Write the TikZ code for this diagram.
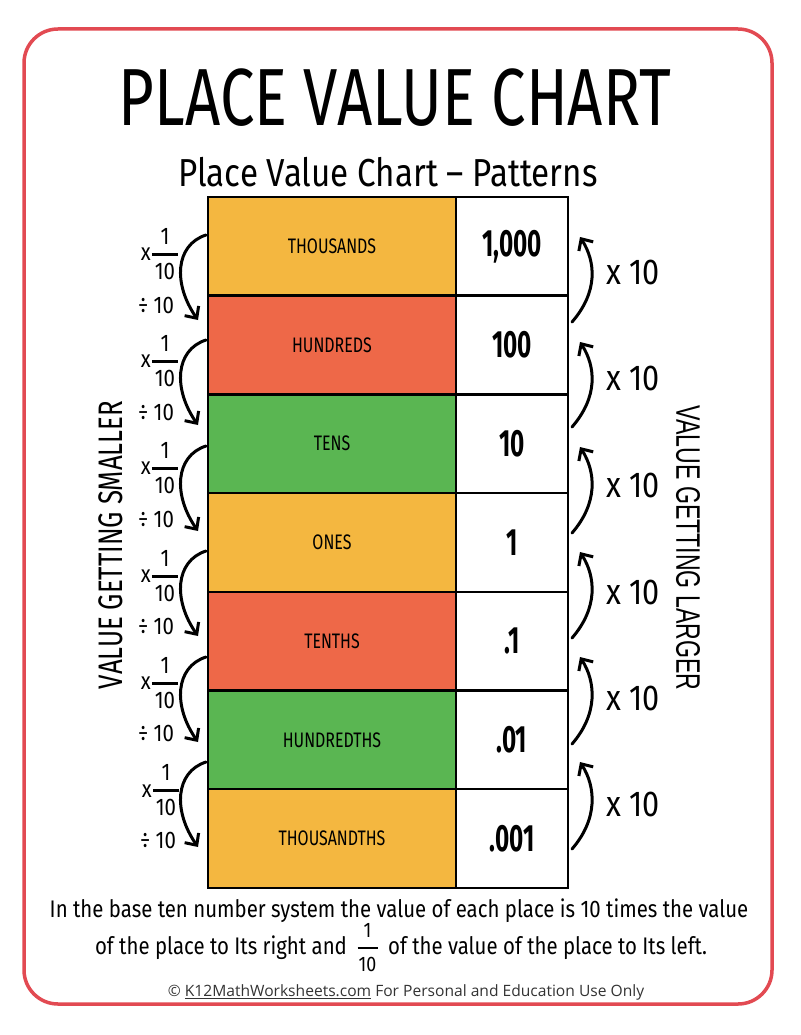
\documentclass[tikz,border=0pt]{standalone}
\usepackage{amsmath}
\usepackage{fontspec}
\usepackage{tikz}
\usetikzlibrary{arrows.meta}
\setmainfont{Open Sans}
\newfontfamily\capsfont[FakeStretch=0.76]{Fira Sans}
\newfontfamily\handfont[FakeStretch=0.85]{Fira Sans}
\newfontfamily\numfont[FakeStretch=0.64]{Fira Sans}
\newfontfamily\armfont[FakeStretch=0.68]{Liberation Sans}
\definecolor{frame}{RGB}{226,74,82}
\definecolor{orng}{RGB}{244,183,64}
\definecolor{redd}{RGB}{238,104,72}
\definecolor{grn}{RGB}{90,182,82}
\newcommand{\onetenth}{\genfrac{}{}{2.5pt}{0}{\hbox{1}}{\hbox to 26pt{\hss 10\hss}}}
\newcommand{\smalltenth}{$\genfrac{}{}{2pt}{0}{\hbox{\fontsize{21}{21}\selectfont 1}}{\hbox to 20pt{\hss\fontsize{21}{21}\selectfont 10\hss}}$}

\begin{document}
\begin{tikzpicture}[x=1pt, y=-1pt, node distance=98.7pt,
	place/.style={draw, line width=2.5pt, minimum width=248pt, minimum height=98.7pt, inner sep=0pt, font=\capsfont\fontsize{21}{21}\selectfont},
	amount/.style={draw, line width=2.5pt, fill=white, minimum width=112pt, minimum height=98.7pt, inner sep=0pt, font=\numfont\bfseries\fontsize{38}{38}\selectfont},
	loopy/.style={-{Straight Barb[length=9pt,width=17pt]}, line width=3pt, line cap=round, line join=round},
	tenthlbl/.style={inner sep=0pt, font=\handfont\fontsize{24}{24}\selectfont},
	timesten/.style={inner sep=0pt, font=\handfont\fontsize{36}{36}\selectfont},
	para/.style={inner sep=0pt, anchor=base, font=\handfont\fontsize{24}{24}\selectfont}]
	\useasboundingbox (0,0) rectangle (800,1035);
	\draw[frame, line width=3.5pt, rounded corners=34pt] (24,29) rectangle (772,1004);
	
	\node[anchor=base, font=\capsfont\fontsize{81}{81}\selectfont] (title) at (395,126) {PLACE VALUE CHART};
	\node[anchor=base, font=\handfont\fontsize{39}{39}\selectfont] (sub) at (388,186) {Place Value Chart – Patterns};
	
	% place names
	\node[place, fill=orng] (thou) at (332,246.35) {THOUSANDS};
	\node[place, fill=redd, below of=thou] (hund) {HUNDREDS};
	\node[place, fill=grn, below of=hund] (tens) {TENS};
	\node[place, fill=orng, below of=tens] (ones) {ONES};
	\node[place, fill=redd, below of=ones] (tnth) {TENTHS};
	\node[place, fill=grn, below of=tnth] (hdth) {HUNDREDTHS};
	\node[place, fill=orng, below of=hdth] (thth) {THOUSANDTHS};
	
	% values
	\node[amount, right of=thou, xshift=81.3pt] (vthou) {1,000};
	\node[amount, below of=vthou] (vhund) {100};
	\node[amount, below of=vhund] (vtens) {10};
	\node[amount, below of=vtens] (vones) {1};
	\node[amount, below of=vones] (vtnth) {.1};
	\node[amount, below of=vtnth] (vhdth) {.01};
	\node[amount, below of=vhdth] (vthth) {.001};
	
	% going down
	\coordinate (a1s) at (206,235); \coordinate (a1e) at (198,320);
	\coordinate (a2s) at (206,340); \coordinate (a2e) at (198,425);
	\coordinate (a3s) at (206,446); \coordinate (a3e) at (198,531);
	\coordinate (a4s) at (206,551); \coordinate (a4e) at (198,636);
	\coordinate (a5s) at (206,657); \coordinate (a5e) at (198,742);
	\coordinate (a6s) at (206,762); \coordinate (a6e) at (198,847);
	\draw[loopy] (a1s) .. controls ([xshift=-31pt, yshift=-10pt] a1s) and ([xshift=-25pt, yshift=36pt] a1e) .. (a1e);
	\draw[loopy] (a2s) .. controls ([xshift=-31pt, yshift=-10pt] a2s) and ([xshift=-25pt, yshift=36pt] a2e) .. (a2e);
	\draw[loopy] (a3s) .. controls ([xshift=-31pt, yshift=-10pt] a3s) and ([xshift=-25pt, yshift=36pt] a3e) .. (a3e);
	\draw[loopy] (a4s) .. controls ([xshift=-31pt, yshift=-10pt] a4s) and ([xshift=-25pt, yshift=36pt] a4e) .. (a4e);
	\draw[loopy] (a5s) .. controls ([xshift=-31pt, yshift=-10pt] a5s) and ([xshift=-25pt, yshift=36pt] a5e) .. (a5e);
	\draw[loopy] (a6s) .. controls ([xshift=-31pt, yshift=-10pt] a6s) and ([xshift=-25pt, yshift=36pt] a6e) .. (a6e);
	
	\node[tenthlbl] (m1) at (160,254) {$\vcenter{\hbox{x}}\onetenth$};
	\node[tenthlbl] (d1) at (156,305) {÷ 10};
	\node[tenthlbl] (m2) at (160,361) {$\vcenter{\hbox{x}}\onetenth$};
	\node[tenthlbl] (d2) at (156,412) {÷ 10};
	\node[tenthlbl] (m3) at (160,468) {$\vcenter{\hbox{x}}\onetenth$};
	\node[tenthlbl] (d3) at (156,519) {÷ 10};
	\node[tenthlbl] (m4) at (160,576) {$\vcenter{\hbox{x}}\onetenth$};
	\node[tenthlbl] (d4) at (156,626) {÷ 10};
	\node[tenthlbl] (m5) at (160,683) {$\vcenter{\hbox{x}}\onetenth$};
	\node[tenthlbl] (d5) at (156,733) {÷ 10};
	\node[tenthlbl] (m6) at (161,790) {$\vcenter{\hbox{x}}\onetenth$};
	\node[tenthlbl] (d6) at (158,840) {÷ 10};
	
	% going up
	\coordinate (b1s) at (572,322); \coordinate (b1e) at (580,237);
	\coordinate (b2s) at (572,427); \coordinate (b2e) at (580,342);
	\coordinate (b3s) at (572,533); \coordinate (b3e) at (580,447);
	\coordinate (b4s) at (572,638); \coordinate (b4e) at (580,552);
	\coordinate (b5s) at (572,744); \coordinate (b5e) at (580,657);
	\coordinate (b6s) at (572,849); \coordinate (b6e) at (580,762);
	\draw[loopy] (b1s) .. controls ([xshift=26pt, yshift=30pt] b1s) and ([xshift=16pt, yshift=-25pt] b1e) .. (b1e);
	\draw[loopy] (b2s) .. controls ([xshift=26pt, yshift=30pt] b2s) and ([xshift=16pt, yshift=-25pt] b2e) .. (b2e);
	\draw[loopy] (b3s) .. controls ([xshift=26pt, yshift=30pt] b3s) and ([xshift=16pt, yshift=-25pt] b3e) .. (b3e);
	\draw[loopy] (b4s) .. controls ([xshift=26pt, yshift=30pt] b4s) and ([xshift=16pt, yshift=-25pt] b4e) .. (b4e);
	\draw[loopy] (b5s) .. controls ([xshift=26pt, yshift=30pt] b5s) and ([xshift=16pt, yshift=-25pt] b5e) .. (b5e);
	\draw[loopy] (b6s) .. controls ([xshift=26pt, yshift=30pt] b6s) and ([xshift=16pt, yshift=-25pt] b6e) .. (b6e);
	
	\node[timesten] (t1) at (633,272) {x 10};
	\node[timesten] (t2) at (633,378) {x 10};
	\node[timesten] (t3) at (633,485) {x 10};
	\node[timesten] (t4) at (633,592) {x 10};
	\node[timesten] (t5) at (633,698) {x 10};
	\node[timesten] (t6) at (633,804) {x 10};
	
	\node[rotate=90, font=\capsfont\fontsize{34}{34}\selectfont] (smaller) at (111,545) {VALUE GETTING SMALLER};
	\node[rotate=-90, font=\armfont\fontsize{34}{34}\selectfont] (larger) at (688,548) {VALUE GETTING LARGER};
	
	\node[para] (line1) at (399,917) {In the base ten number system the value of each place is 10 times the value};
	\node[para] (line2) at (401,954) {of the place to Its right and\, \smalltenth\,\ of the value of the place to Its left.};
	\node[anchor=base, inner sep=0pt, text=black!80, font=\fontsize{15.6}{15.6}\selectfont] (foot) at (406,996) {© \underline{K12MathWorksheets.com} For Personal and Education Use Only};
\end{tikzpicture}
\end{document}
